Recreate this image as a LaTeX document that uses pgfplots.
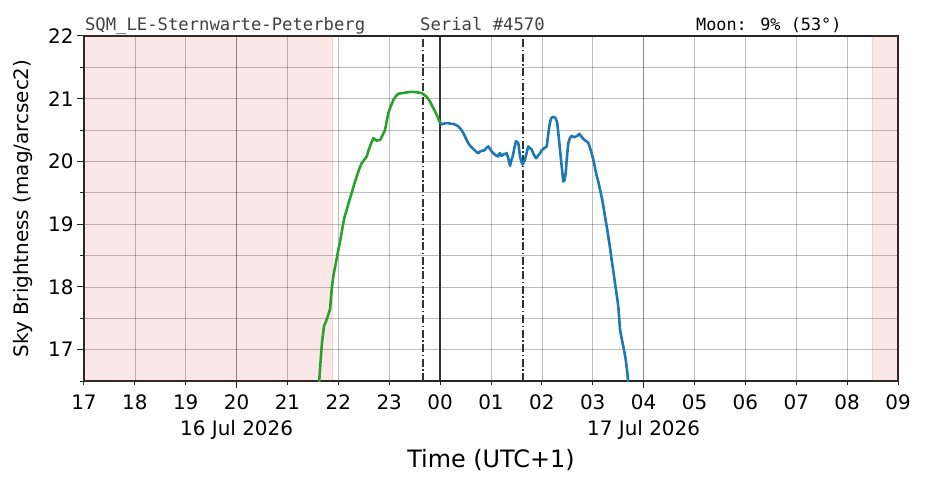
\documentclass[border=0pt]{standalone}
\usepackage{pgfplots}
\pgfplotsset{compat=1.18}
\usepackage{fontspec}
\setmainfont{DejaVu Sans}
\newfontfamily\monofont{DejaVu Sans Mono}
\definecolor{tabblue}{HTML}{1F77B4}
\definecolor{tabgreen}{HTML}{2CA02C}
\definecolor{tabred}{HTML}{D62728}
\definecolor{framec}{HTML}{262626}
\begin{document}
\begin{tikzpicture}
\path[use as bounding box] (-84bp,-107bp) rectangle (842bp,381bp);
\begin{axis}[
  at={(0,0)}, anchor=south west,
  scale only axis, width=814bp, height=345bp,
  xmin=17, xmax=33, ymin=16.5, ymax=22,
  axis line style={framec, line width=1.3bp},
  tick align=outside, tick pos=left,
  major tick length=7bp, minor tick length=4bp,
  tick style={framec, line width=1bp},
  xtick={20,28},
  xticklabels={{20\\16 Jul 2026},{04\\17 Jul 2026}},
  minor xtick={17,...,33},
  extra x ticks={17,18,19,21,22,23,24,25,26,27,29,30,31,32,33},
  extra x tick labels={17,18,19,21,22,23,00,01,02,03,05,06,07,08,09},
  extra x tick style={major tick length=4bp, grid=none, xticklabel style={yshift=-3bp}},
  ytick={17,18,19,20,21,22},
  minor ytick={16.5,17.5,18.5,19.5,20.5,21.5},
  grid=both,
  major grid style={black, opacity=0.26, line width=0.7bp},
  minor grid style={black, opacity=0.26, line width=0.7bp},
  xticklabel style={align=center, font=\fontsize{20}{26.5}\selectfont, yshift=-3bp},
  yticklabel style={font=\fontsize{20}{24}\selectfont},
  /pgf/number format/assume math mode=true,
  ylabel={Sky Brightness (mag/arcsec2)},
  ylabel style={font=\fontsize{20}{24}\selectfont, at={(axis description cs:-0.0749,0.5)}, anchor=center},
  xlabel={Time (UTC+1)},
  xlabel style={font=\fontsize{24}{28}\selectfont, at={(axis description cs:0.5,-0.229)}, anchor=center},
  clip mode=individual,
]
% twilight shading
\addplot[draw=tabred, draw opacity=0.12, line width=1bp, fill=tabred, fill opacity=0.11] coordinates {(17,16.5) (21.888,16.5) (21.888,22) (17,22)} -- cycle;
\addplot[draw=tabred, draw opacity=0.12, line width=1bp, fill=tabred, fill opacity=0.11] coordinates {(32.495,16.5) (33,16.5) (33,22) (32.495,22)} -- cycle;
% vertical markers
\addplot[black!80, line width=1.3bp, dash pattern=on 8bp off 2.5bp on 1.5bp off 2.5bp] coordinates {(23.663,16.5) (23.663,22)};
\addplot[black!80, line width=1.3bp, dash pattern=on 8bp off 2.5bp on 1.5bp off 2.5bp] coordinates {(25.629,16.5) (25.629,22)};
\addplot[black!80, line width=1.4bp] coordinates {(24.0,16.5) (24.0,22)};
% green (twilight) data
\addplot[tabgreen, line width=2.6bp, line join=round] coordinates {
(21.620,16.45) (21.625,16.52) (21.652,16.84) (21.678,17.11) (21.717,17.37) (21.771,17.48) (21.835,17.64)
(21.869,17.96) (21.900,18.17) (21.953,18.39) (21.999,18.59) (22.032,18.72)
(22.065,18.87) (22.097,19.02) (22.130,19.14) (22.164,19.23) (22.210,19.36) (22.262,19.50)
(22.310,19.63) (22.360,19.76) (22.410,19.88) (22.459,19.97) (22.510,20.03) (22.557,20.08)
(22.590,20.17) (22.622,20.24) (22.655,20.31) (22.687,20.37) (22.720,20.35) (22.753,20.33)
(22.790,20.34) (22.818,20.34) (22.870,20.42) (22.916,20.50) (22.950,20.64) (22.981,20.77)
(23.030,20.88) (23.080,20.98) (23.130,21.04) (23.178,21.08) (23.260,21.09) (23.343,21.10)
(23.410,21.11) (23.473,21.11) (23.560,21.10) (23.638,21.09) (23.690,21.06) (23.736,21.03)
(23.790,20.97) (23.835,20.90) (23.880,20.83) (23.919,20.77) (23.955,20.70) (23.984,20.64) (24.000,20.62)
};
% blue (night) data
\addplot[tabblue, line width=2.6bp, line join=round] coordinates {
(24.000,20.62) (24.030,20.59) (24.062,20.60) (24.110,20.61) (24.161,20.61) (24.210,20.60) (24.259,20.60)
(24.310,20.58) (24.357,20.56) (24.410,20.51) (24.456,20.45) (24.505,20.37) (24.554,20.29)
(24.600,20.24) (24.652,20.20) (24.700,20.16) (24.750,20.13) (24.785,20.16) (24.817,20.17)
(24.850,20.17) (24.882,20.19) (24.915,20.22) (24.947,20.24) (24.980,20.20) (25.014,20.16)
(25.045,20.13) (25.079,20.11) (25.110,20.09) (25.144,20.08) (25.160,20.12) (25.177,20.13)
(25.210,20.09) (25.242,20.11) (25.275,20.12) (25.309,20.13) (25.340,20.05) (25.374,19.93)
(25.400,20.02) (25.427,20.08) (25.460,20.22) (25.491,20.32) (25.515,20.31) (25.537,20.29)
(25.555,20.18) (25.570,20.08) (25.600,19.99) (25.623,19.95) (25.645,19.99) (25.668,20.03)
(25.700,20.14) (25.733,20.24) (25.765,20.21) (25.800,20.19) (25.840,20.11) (25.885,20.05)
(25.925,20.09) (25.963,20.13) (26.000,20.18) (26.042,20.21) (26.095,20.24) (26.120,20.40)
(26.146,20.56) (26.170,20.66) (26.193,20.70) (26.225,20.71) (26.258,20.70) (26.280,20.67)
(26.303,20.61) (26.330,20.40) (26.356,20.19) (26.390,19.92) (26.421,19.68) (26.445,19.70)
(26.468,19.81) (26.490,20.05) (26.519,20.29) (26.550,20.37) (26.586,20.41) (26.620,20.39)
(26.651,20.39) (26.700,20.41) (26.736,20.44) (26.775,20.40) (26.814,20.36) (26.860,20.33)
(26.913,20.30) (26.945,20.22) (26.979,20.13) (27.010,20.03) (27.044,19.90) (27.075,19.78)
(27.109,19.68) (27.140,19.56) (27.176,19.43) (27.210,19.28) (27.241,19.12) (27.275,18.96)
(27.306,18.80) (27.340,18.62) (27.372,18.43) (27.405,18.25) (27.437,18.06) (27.470,17.88)
(27.502,17.69) (27.520,17.50) (27.536,17.32) (27.570,17.17) (27.601,17.05) (27.625,16.95)
(27.648,16.84) (27.668,16.71) (27.687,16.58) (27.693,16.45)
};
% header texts
\node[anchor=base west, inner sep=0pt, text=black!75, font=\monofont\fontsize{17.3}{20}\selectfont] at (rel axis cs:0.001,1) [yshift=5bp] {SQM\_LE-Sternwarte-Peterberg};
\node[anchor=base west, inner sep=0pt, text=black!75, font=\monofont\fontsize{17.3}{20}\selectfont] at (rel axis cs:0.4128,1) [yshift=5bp] {Serial \#4570};
\node[anchor=base west, inner sep=0pt, text=black, font=\monofont\fontsize{16.9}{20}\selectfont] at (rel axis cs:0.7518,1) [yshift=5bp] {Moon: 9\% (53°)};
\end{axis}
\end{tikzpicture}
\end{document}
